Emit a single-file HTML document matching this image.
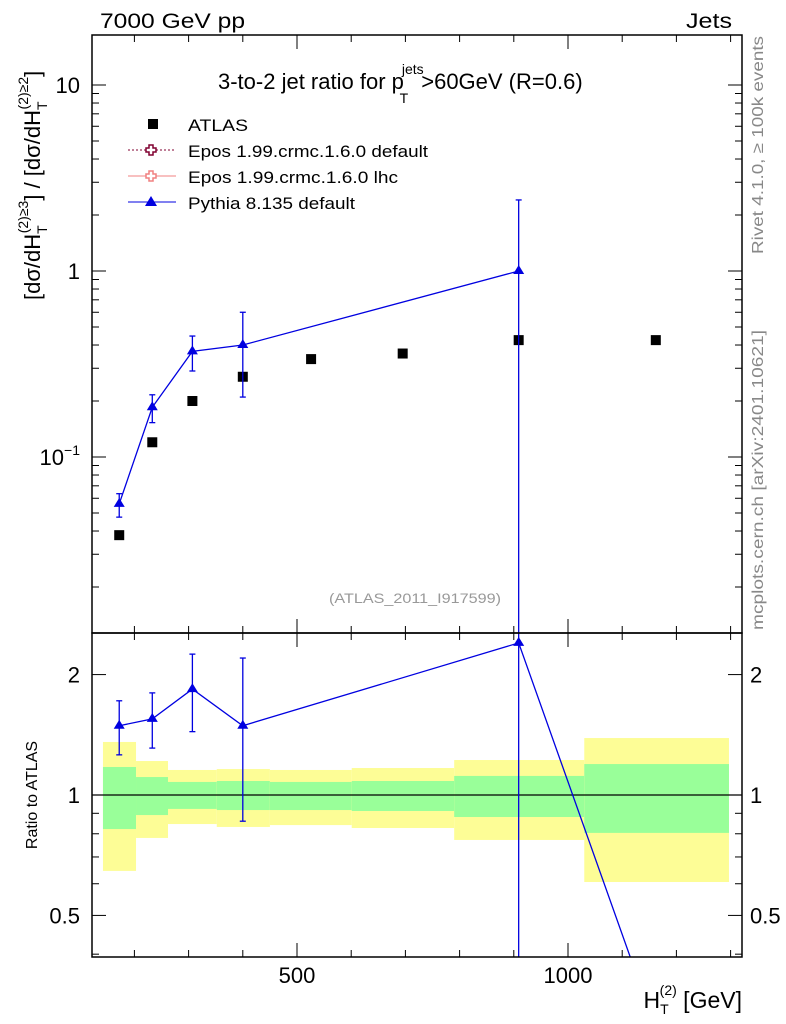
<!DOCTYPE html>
<html><head><meta charset="utf-8"><style>
html,body{margin:0;background:#fff;width:786px;height:1024px;overflow:hidden;font-family:"Liberation Sans",sans-serif}
svg{display:block}
svg text{font-family:"Liberation Sans",sans-serif}
</style></head><body>
<svg id="c" width="786" height="1024" xmlns="http://www.w3.org/2000/svg">
<text x="100" y="28" font-size="21" textLength="145" lengthAdjust="spacingAndGlyphs">7000 GeV pp</text>
<text x="686" y="28" font-size="21" textLength="46" lengthAdjust="spacingAndGlyphs">Jets</text>
<text x="218" y="89" font-size="22">3-to-2 jet ratio for p<tspan font-size="14" dx="-2" dy="-15">jets</tspan><tspan font-size="14" dx="-24" dy="29">T</tspan><tspan dx="13" dy="-14">&gt;60GeV (R=0.6)</tspan></text>
<text transform="translate(40,300) rotate(-90)" font-size="22">[dσ/dH<tspan font-size="14" dy="7">T</tspan><tspan font-size="14" dx="-8" dy="-19">(2)</tspan><tspan font-size="14" dy="0">≥3</tspan><tspan dy="12">] / [dσ/dH</tspan><tspan font-size="14" dy="7">T</tspan><tspan font-size="14" dx="-8" dy="-19">(2)</tspan><tspan font-size="14">≥2</tspan><tspan dy="12">]</tspan></text>
<text transform="translate(37,795) rotate(-90)" font-size="16" text-anchor="middle">Ratio to ATLAS</text>
<text x="742" y="1008" font-size="23" text-anchor="end">H<tspan font-size="14" dy="6">T</tspan><tspan font-size="14" dx="-9" dy="-19">(2)</tspan><tspan dy="13"> [GeV]</tspan></text>
<text transform="translate(763,36) rotate(-90)" font-size="16" fill="#888" text-anchor="end" textLength="218" lengthAdjust="spacingAndGlyphs">Rivet 4.1.0, ≥ 100k events</text>
<text transform="translate(763,630) rotate(-90)" font-size="16" fill="#888" textLength="300" lengthAdjust="spacingAndGlyphs">mcplots.cern.ch [arXiv:2401.10621]</text>
<text x="415" y="603" font-size="14" fill="#999" text-anchor="middle" textLength="172" lengthAdjust="spacingAndGlyphs">(ATLAS_2011_I917599)</text>
<g id="legend">
<rect x="148" y="119" width="10" height="10" fill="#000"/>
<text x="188" y="131" font-size="17" textLength="60" lengthAdjust="spacingAndGlyphs">ATLAS</text>
<line x1="128" y1="150" x2="176" y2="150" stroke="#800030" stroke-dasharray="2,2"/>
<path d="M149 145h4v3h3v4h-3v3h-4v-3h-3v-4h3z" fill="#fff" stroke="#800030" stroke-width="1.5"/>
<text x="188" y="157" font-size="17" textLength="240" lengthAdjust="spacingAndGlyphs">Epos 1.99.crmc.1.6.0 default</text>
<line x1="128" y1="176" x2="176" y2="176" stroke="#f08080"/>
<path d="M149 171h4v3h3v4h-3v3h-4v-3h-3v-4h3z" fill="#fff" stroke="#f08080" stroke-width="1.5"/>
<text x="188" y="183" font-size="17" textLength="210" lengthAdjust="spacingAndGlyphs">Epos 1.99.crmc.1.6.0 lhc</text>
<line x1="128" y1="202" x2="176" y2="202" stroke="#0000e0"/>
<path d="M151 196l6 10h-12z" fill="#0000e0"/>
<text x="188" y="209" font-size="17" textLength="167" lengthAdjust="spacingAndGlyphs">Pythia 8.135 default</text>
</g>
<g id="g"></g>
</svg>
<script>
const xCenters=[172,233,307,400,526,695,909,1162];
const binEdges=[142,203,262,352,450,601,790,1030,1297];
const atlasY=[0.038,0.12,0.20,0.27,0.336,0.36,0.425,0.425];
const pythiaX=[172,233,307,400,909];
const pythiaY=[0.056,0.185,0.37,0.40,1.0];
const pythiaUp=[0.0635,0.216,0.447,0.60,2.41];
const pythiaDn=[0.0475,0.153,0.29,0.21,0.001];
const ratioX=[172,233,307,400,909,1162];
const ratioY=[1.49,1.55,1.84,1.49,2.4,0.26];
const ratioUp=[1.72,1.80,2.25,2.2,3.0,0.26];
const ratioDn=[1.26,1.31,1.44,0.86,0.1,0.26];
const yelHi=[1.357,1.216,1.155,1.161,1.155,1.168,1.223,1.388];
const yelLo=[0.646,0.781,0.846,0.832,0.841,0.827,0.772,0.606];
const grnHi=[1.175,1.109,1.078,1.084,1.078,1.084,1.116,1.195];
const grnLo=[0.822,0.891,0.923,0.917,0.917,0.912,0.881,0.804];
const L=92,R=742,T=35,M=633,B=957;
const X=v=>297+(v-500)*0.542;
const Y=v=>271-186*Math.log10(v);
const RY=v=>795-400*Math.log10(v);
const g=document.getElementById('g');
const NS='http://www.w3.org/2000/svg';
function el(t,a,p){const e=document.createElementNS(NS,t);for(const k in a)e.setAttribute(k,a[k]);(p||g).appendChild(e);return e;}
const defs=el('defs',{});
const c1=el('clipPath',{id:'cm'},defs);el('rect',{x:L,y:T,width:R-L,height:M-T},c1);
const c2=el('clipPath',{id:'cr'},defs);el('rect',{x:L,y:M,width:R-L,height:B-M},c2);
const gm=el('g',{'clip-path':'url(#cm)'});
const gr=el('g',{'clip-path':'url(#cr)'});
for(let i=0;i<binEdges.length-1;i++){
 const x1=X(binEdges[i]),x2=X(binEdges[i+1]);
 const y=el('rect',{x:x1,y:RY(yelHi[i]),width:x2-x1,height:RY(yelLo[i])-RY(yelHi[i]),fill:'#fdfd96'},gr);
 
 
 const gg=el('rect',{x:x1,y:RY(grnHi[i]),width:x2-x1,height:RY(grnLo[i])-RY(grnHi[i]),fill:'#99ff99'},gr);
 
 
}
el('line',{x1:L,x2:R,y1:RY(1),y2:RY(1),stroke:'#000','stroke-width':1.2},gr);
atlasY.forEach((v,i)=>{const r=el('rect',{x:X(xCenters[i])-5,y:Y(v)-5,width:10,height:10,fill:'#000'},gm);
 
 });
const pl=el('polyline',{points:pythiaX.map((x,i)=>X(x)+','+Y(pythiaY[i])).join(' '),fill:'none',stroke:'#0000e0','stroke-width':1.3},gm);


function tri(p,x,y){const t=el('path',{d:`M${x} ${y-6}l5.5 9h-11z`,fill:'#0000e0'},p);}
function err(p,x,y1,y2){el('line',{x1:x,x2:x,y1:y1,y2:y2,stroke:'#0000e0','stroke-width':1.3},p);
 el('line',{x1:x-3,x2:x+3,y1:y1,y2:y1,stroke:'#0000e0','stroke-width':1.3},p);
 el('line',{x1:x-3,x2:x+3,y1:y2,y2:y2,stroke:'#0000e0','stroke-width':1.3},p);}
pythiaX.forEach((x,i)=>{err(gm,X(x),Y(pythiaUp[i]),Y(pythiaDn[i]));tri(gm,X(x),Y(pythiaY[i]));});
const rl=el('polyline',{points:ratioX.map((x,i)=>X(x)+','+RY(ratioY[i])).join(' '),fill:'none',stroke:'#0000e0','stroke-width':1.3},gr);


ratioX.forEach((x,i)=>{if(i<5){err(gr,X(x),RY(ratioUp[i]),RY(ratioDn[i]));tri(gr,X(x),RY(ratioY[i]));}});
el('rect',{x:L,y:T,width:R-L,height:M-T,fill:'none',stroke:'#000','stroke-width':1.5});
el('rect',{x:L,y:M,width:R-L,height:B-M,fill:'none',stroke:'#000','stroke-width':1.5});
for(let v=200;v<=1300;v+=100){const x=X(v);const big=v%500==0;const h=big?14:7;
 [[T,1],[M,-1],[M,1],[B,-1]].forEach(([y,d])=>el('line',{x1:x,x2:x,y1:y,y2:y+d*h,stroke:'#000'}));}
[500,1000].forEach(v=>{const t=el('text',{x:X(v),y:983,'font-size':22,'text-anchor':'middle'});t.textContent=v;
 
 });
for(let d=-2;d<=1;d++)for(let m=1;m<10;m++){const v=m*Math.pow(10,d);const y=Y(v);if(y<T||y>M)continue;const h=m==1?14:7;
 el('line',{x1:L,x2:L+h,y1:y,y2:y,stroke:'#000'});el('line',{x1:R,x2:R-h,y1:y,y2:y,stroke:'#000'});}
[[10,'10'],[1,'1']].forEach(([v,s])=>{const t=el('text',{x:80,y:Y(v)+8,'font-size':22,'text-anchor':'end'});t.textContent=s;
 
 });
{const t=el('text',{x:80,y:Y(0.1)+8,'font-size':22,'text-anchor':'end'});t.innerHTML='10<tspan font-size="14" dy="-10">−1</tspan>';
 
 }
[0.4,0.5,0.6,0.7,0.8,0.9,1,2].forEach(v=>{const y=RY(v);const h=(v==0.5||v==1||v==2)?14:7;
 el('line',{x1:L,x2:L+h,y1:y,y2:y,stroke:'#000'});el('line',{x1:R,x2:R-h,y1:y,y2:y,stroke:'#000'});});
[[2,'2'],[1,'1'],[0.5,'0.5']].forEach(([v,s])=>{
 const t=el('text',{x:80,y:RY(v)+8,'font-size':22,'text-anchor':'end'});t.textContent=s;
 
 
 const t2=el('text',{x:750,y:RY(v)+8,'font-size':22});t2.textContent=s;
 
 });
</script>
</body></html>
